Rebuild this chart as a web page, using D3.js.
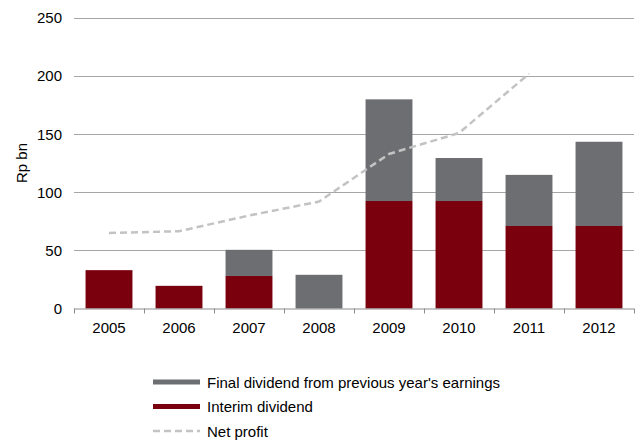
<!DOCTYPE html>
<html>
<head>
<meta charset="utf-8">
<script src="https://cdn.jsdelivr.net/npm/d3@7"></script>
<style>
  body { margin: 0; background: #fff; }
  svg text { font-family: "Liberation Sans", Arial, sans-serif; fill: #000; }
</style>
</head>
<body>
<svg id="chart"></svg>
<script>
// data
const years = ['2005', '2006', '2007', '2008', '2009', '2010', '2011', '2012'];
const interim = [33, 19.5, 28, 0, 92.5, 92.5, 71, 71];           // Interim dividend
const finalDiv = [0, 0, 22.5, 29, 87.5, 37, 44, 72.5];           // Final dividend from previous year's earnings
const profitYears = ['2005', '2006', '2007', '2008', '2009', '2010', '2011'];
const netProfit = [65, 66.5, 80, 92, 133, 151, 202];
const yTicks = [0, 50, 100, 150, 200, 250];

const W = 642, H = 444;
const margin = { top: 18, right: 8, bottom: 136, left: 74 };
const plotW = 634 - margin.left;
const plotH = 308.5 - margin.top;

const colGray = '#6d6e71';
const colRed = '#7a000e';
const colLine = '#c3c3c3';

let svg = d3.select('#chart')
  .attr('width', W)
  .attr('height', H);

let g = svg.append('g')
  .attr('transform', 'translate(' + margin.left + ',' + margin.top + ')');

let xScale = d3.scaleBand()
  .domain(years)
  .range([0, plotW])
  .paddingInner(0.33)
  .paddingOuter(0.165);

let yScale = d3.scaleLinear()
  .domain([0, 250])
  .range([plotH, 0]);

// gridlines
g.append('g')
  .selectAll('line')
  .data(yTicks.filter(d => d > 0))
  .enter()
  .append('line')
  .attr('x1', 0)
  .attr('x2', plotW)
  .attr('y1', d => Math.round(yScale(d)) + 0.5)
  .attr('y2', d => Math.round(yScale(d)) + 0.5)
  .attr('stroke', '#a6a6a6')
  .attr('stroke-width', 1);

// y tick labels
let yAxis = d3.axisLeft(yScale).tickValues(yTicks).tickSize(0).tickPadding(12);
g.append('g')
  .call(yAxis)
  .call(a => a.select('.domain').remove())
  .selectAll('text')
  .style('font-size', '15px')
  .attr('fill', '#000');

// stacked bars
let rows = years.map((y, i) => ({ year: y, interim: interim[i], final: finalDiv[i] }));

g.selectAll('.interim')
  .data(rows)
  .enter()
  .append('rect')
  .attr('class', 'interim')
  .attr('x', d => xScale(d.year))
  .attr('width', xScale.bandwidth())
  .attr('y', d => yScale(d.interim))
  .attr('height', d => plotH - yScale(d.interim))
  .attr('fill', colRed);

g.selectAll('.final')
  .data(rows)
  .enter()
  .append('rect')
  .attr('class', 'final')
  .attr('x', d => xScale(d.year))
  .attr('width', xScale.bandwidth())
  .attr('y', d => yScale(d.interim + d.final))
  .attr('height', d => yScale(d.interim) - yScale(d.interim + d.final))
  .attr('fill', colGray);

// net profit line
let line = d3.line()
  .x(d => xScale(d.year) + xScale.bandwidth() / 2)
  .y(d => yScale(d.value));

g.append('path')
  .datum(profitYears.map((y, i) => ({ year: y, value: netProfit[i] })))
  .attr('d', line)
  .attr('fill', 'none')
  .attr('stroke', colLine)
  .attr('stroke-width', 2.5)
  .attr('stroke-dasharray', '7,4');

// x axis with ticks at band edges
let step = xScale.step();
let edges = d3.range(years.length + 1).map(i => i * step);
let xg = g.append('g').attr('transform', 'translate(0,' + plotH + ')');
xg.append('line')
  .attr('x1', 0).attr('x2', plotW)
  .attr('y1', 0.5).attr('y2', 0.5)
  .attr('stroke', '#8c8c8c');
xg.selectAll('.tick-mark')
  .data(edges)
  .enter()
  .append('line')
  .attr('x1', d => Math.round(d) + 0.5)
  .attr('x2', d => Math.round(d) + 0.5)
  .attr('y1', 0)
  .attr('y2', 5)
  .attr('stroke', '#8c8c8c');
xg.selectAll('.xlab')
  .data(years)
  .enter()
  .append('text')
  .attr('x', d => xScale(d) + xScale.bandwidth() / 2)
  .attr('y', 24.5)
  .attr('text-anchor', 'middle')
  .style('font-size', '15px')
  .text(d => d);

// y axis title
svg.append('text')
  .attr('transform', 'translate(27,' + 163 + ') rotate(-90)')
  .attr('text-anchor', 'middle')
  .style('font-size', '15px')
  .text('Rp bn');

// legend
let legendItems = [
  { label: "Final dividend from previous year's earnings", type: 'bar', color: colGray },
  { label: 'Interim dividend', type: 'bar', color: colRed },
  { label: 'Net profit', type: 'line', color: colLine }
];
let legend = svg.append('g').attr('transform', 'translate(153,382)');
let li = legend.selectAll('g')
  .data(legendItems)
  .enter()
  .append('g')
  .attr('transform', (d, i) => 'translate(0,' + (i * 24.5) + ')');
li.append('line')
  .attr('x1', 0).attr('x2', 47)
  .attr('y1', 0).attr('y2', 0)
  .attr('stroke', d => d.color)
  .attr('stroke-width', d => d.type === 'bar' ? 5 : 2.5)
  .attr('stroke-dasharray', d => d.type === 'line' ? '7,4' : null);
li.append('text')
  .attr('x', 54)
  .attr('y', 5.5)
  .style('font-size', '15px')
  .text(d => d.label);
</script>
</body>
</html>
